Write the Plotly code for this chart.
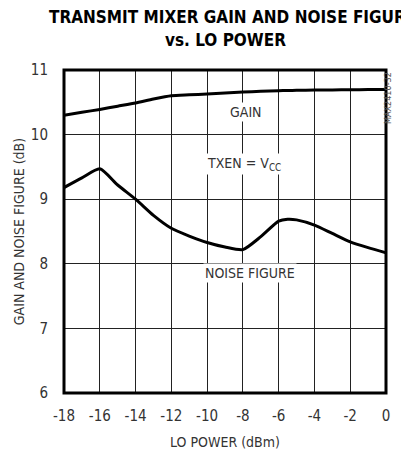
import plotly.graph_objects as go

lo_power = [-18, -17, -16, -15, -14, -13, -12, -11, -10, -9, -8, -7, -6, -5.5, -5, -4, -3, -2, -1, 0]
gain = [10.30, 10.345, 10.39, 10.44, 10.49, 10.55, 10.60, 10.615, 10.63, 10.645, 10.66, 10.67, 10.68, 10.683, 10.685, 10.69, 10.69, 10.695, 10.697, 10.70]
noise_figure = [9.18, 9.33, 9.47, 9.22, 9.00, 8.75, 8.55, 8.43, 8.33, 8.26, 8.22, 8.42, 8.66, 8.69, 8.68, 8.60, 8.47, 8.34, 8.25, 8.17]
x_ticks = [-18, -16, -14, -12, -10, -8, -6, -4, -2, 0]
x_tick_labels = ["-18", "-16", "-14", "-12", "-10", "-8", "-6", "-4", "-2", "0"]
y_ticks = [6, 7, 8, 9, 10, 11]
y_tick_labels = ["6", "7", "8", "9", "10", "11"]

FONT = "DejaVu Sans Condensed"
GRAY = "#333333"

fig = go.Figure()
fig.add_trace(go.Scatter(x=lo_power, y=gain, mode="lines", line=dict(color="black", width=3, shape="spline", smoothing=0.6), hoverinfo="skip"))
fig.add_trace(go.Scatter(x=lo_power, y=noise_figure, mode="lines", line=dict(color="black", width=3, shape="spline", smoothing=0.6), hoverinfo="skip"))

fig.update_layout(
    width=401, height=452,
    margin=dict(l=64, r=15, t=70, b=59),
    paper_bgcolor="white", plot_bgcolor="white",
    showlegend=False,
    font=dict(family=FONT, color=GRAY, size=14),
    xaxis=dict(range=[-18, 0], tickvals=x_ticks, ticktext=x_tick_labels, showgrid=True, gridcolor="#222222", gridwidth=1,
               zeroline=False, showline=False, ticks="outside", ticklen=9, tickcolor="rgba(0,0,0,0)",
               tickfont=dict(size=15, color=GRAY), automargin=False,
               title=dict(text="LO POWER (dBm)", font=dict(size=14, color=GRAY), standoff=13)),
    yaxis=dict(range=[6, 11], tickvals=y_ticks, ticktext=y_tick_labels, showgrid=True, gridcolor="#222222", gridwidth=1,
               zeroline=False, showline=False, ticks="outside", ticklen=12, tickcolor="rgba(0,0,0,0)",
               tickfont=dict(size=15, color=GRAY), automargin=False,
               title=dict(text="GAIN AND NOISE FIGURE (dB)", font=dict(size=14, color=GRAY), standoff=2)),
)

fig.add_shape(type="rect", xref="paper", yref="paper", x0=0, x1=1, y0=0, y1=1, line=dict(color="black", width=3), layer="above")

fig.add_annotation(x=0, xref="paper", y=1, yref="paper", yshift=53, yanchor="middle", xanchor="left", xshift=-17, showarrow=False,
                   text="<b>TRANSMIT MIXER GAIN AND NOISE FIGURE</b>", font=dict(size=17, color="black", family=FONT))
fig.add_annotation(x=-9, y=11, yshift=30, yanchor="middle", showarrow=False,
                   text="<b>vs. LO POWER</b>", font=dict(size=17, color="black", family=FONT))

fig.add_annotation(x=-7.8, y=10.35, showarrow=False, text="GAIN", bgcolor="white", font=dict(size=14, color=GRAY))
fig.add_annotation(x=-7.95, y=9.55, showarrow=False, text="TXEN = V<sub>CC</sub>", bgcolor="white", font=dict(size=14, color=GRAY))
fig.add_annotation(x=-7.6, y=7.86, showarrow=False, text="NOISE FIGURE", bgcolor="white", font=dict(size=14, color=GRAY))
fig.add_annotation(x=1, xref="paper", y=1, yref="paper", xshift=9, yanchor="top", textangle=-90, showarrow=False,
                   text="MAX2410-32", font=dict(size=9, color="#555555"))

fig.write_html("out.html", post_script="document.body.style.margin='0';", config={"displayModeBar": False})
